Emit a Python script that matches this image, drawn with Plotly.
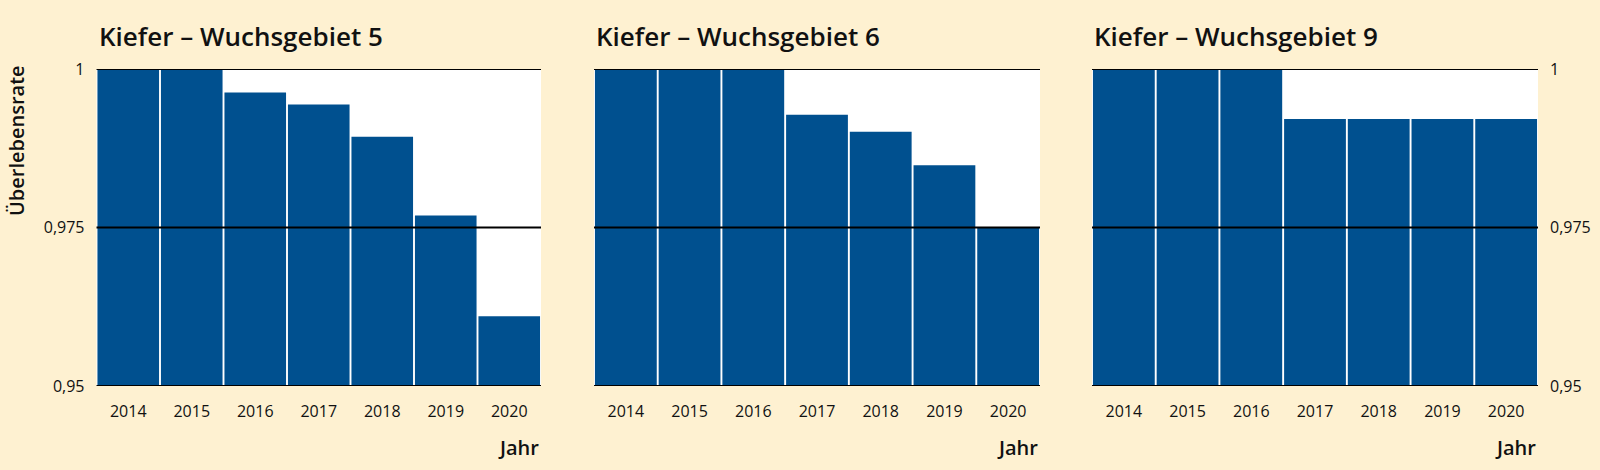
import plotly.graph_objects as go

years = ["2014", "2015", "2016", "2017", "2018", "2019", "2020"]
wg5 = [1.0, 1.0, 0.9963, 0.9944, 0.9893, 0.9769, 0.9610]
wg6 = [1.0, 1.0, 1.0, 0.9928, 0.9901, 0.9848, 0.9750]
wg9 = [1.0, 1.0, 1.0, 0.9921, 0.9921, 0.9921, 0.9921]
titles = ["Kiefer – Wuchsgebiet 5", "Kiefer – Wuchsgebiet 6", "Kiefer – Wuchsgebiet 9"]
y_ticks = [0.95, 0.975, 1.0]
y_ticktext = ["0,95", "0,975", "1"]

W, H = 1600, 470
BAR = "#00508F"
BG = "#FEF1D1"
FONT = "Open Sans"

panels_px = [(96.5, 541), (594, 1040), (1092, 1538)]
top_px, bot_px = 69, 386
ydom = [1 - bot_px / H, 1 - top_px / H]

fig = go.Figure()
series = [wg5, wg6, wg9]
for i, vals in enumerate(series):
    n = "" if i == 0 else str(i + 1)
    fig.add_trace(go.Bar(x=years, y=vals, xaxis="x" + n, yaxis="y" + n,
                         marker=dict(color=BAR, line=dict(width=0)),
                         showlegend=False, hoverinfo="x+y"))

layout = dict(
    width=W, height=H, autosize=False,
    paper_bgcolor=BG, plot_bgcolor="white",
    margin=dict(l=0, r=0, t=0, b=0, pad=0, autoexpand=False),
    bargap=0.03,
    font=dict(family=FONT, color="#111111", size=16),
    shapes=[], annotations=[],
)

for i in range(3):
    n = "" if i == 0 else str(i + 1)
    x0, x1 = panels_px[i]
    layout["xaxis" + n] = dict(
        domain=[x0 / W, x1 / W], anchor="y" + n, automargin=False,
        showgrid=False, zeroline=False, showline=False, ticks="",
        tickfont=dict(size=16, family=FONT), ticklabelstandoff=14,
        range=[-0.5, 6.5], fixedrange=True,
    )
    yax = dict(
        domain=ydom, anchor="x" + n, range=[0.95, 1.0], automargin=False,
        showgrid=False, zeroline=False, showline=False, ticks="",
        tickvals=y_ticks, ticktext=y_ticktext,
        tickfont=dict(size=16, family=FONT), ticklabelstandoff=11,
        fixedrange=True,
    )
    if i == 1:
        yax["showticklabels"] = False
    if i == 2:
        yax["side"] = "right"
    layout["yaxis" + n] = yax
    for v in y_ticks:
        layout["shapes"].append(dict(
            type="line", xref="x" + n + " domain", yref="y" + n,
            x0=0, x1=1, y0=v, y1=v, layer="above",
            line=dict(color="black", width=2)))
    layout["annotations"].append(dict(
        text=titles[i], xref="paper", yref="paper",
        x=x0 / W, y=1 - 36 / H, xanchor="left", yanchor="middle",
        showarrow=False, font=dict(size=26, family=FONT, weight=600, color="#111111")))
    layout["annotations"].append(dict(
        text="Jahr", xref="paper", yref="paper",
        x=x1 / W, y=1 - 447 / H, xanchor="right", yanchor="middle",
        showarrow=False, font=dict(size=20, family=FONT, weight=600, color="#111111")))

layout["annotations"].append(dict(
    text="Überlebensrate", xref="paper", yref="paper",
    x=16 / W, y=1 - 141 / H, xanchor="center", yanchor="middle", textangle=-90,
    showarrow=False, font=dict(size=20, family=FONT, weight=600, color="#111111")))

fig.update_layout(**layout)
fig.write_html("out.html", config={"displayModeBar": False},
               post_script="document.body.style.margin='0';document.body.style.overflow='hidden';")
